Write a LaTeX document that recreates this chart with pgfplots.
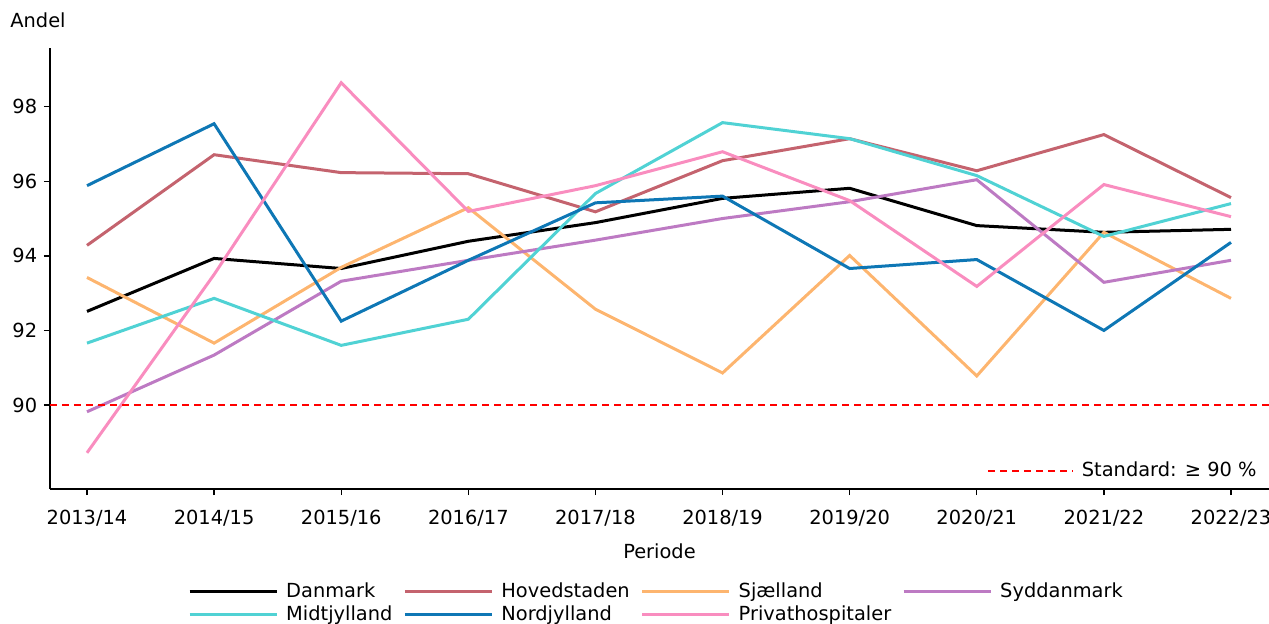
\documentclass[border=0pt]{standalone}
\usepackage{pgfplots}
\pgfplotsset{compat=1.18}
\usepackage{fontspec}
\setmainfont{DejaVu Sans}
\definecolor{cDan}{HTML}{000000}
\definecolor{cHov}{HTML}{C4636E}
\definecolor{cSja}{HTML}{FDB56F}
\definecolor{cSyd}{HTML}{BD7AC3}
\definecolor{cMid}{HTML}{50D2D4}
\definecolor{cNor}{HTML}{0E77B5}
\definecolor{cPri}{HTML}{F98DBF}
\begin{document}
\fontsize{9.7}{11.6}\selectfont
\begin{tikzpicture}
\useasboundingbox (-25pt,-67pt) rectangle (609.5pt,244.5pt);
\begin{axis}[
  scale only axis,
  width=609.5pt, height=220.5pt,
  xmin=-0.291, xmax=9.299,
  ymin=87.75, ymax=99.57,
  axis x line*=bottom, axis y line*=left,
  axis line style={line width=0.9pt, -},
  tick align=outside, major tick length=3pt,
  tick style={line width=0.7pt, black},
  xtick={0,...,9},
  xticklabels={2013/14,2014/15,2015/16,2016/17,2017/18,2018/19,2019/20,2020/21,2021/22,2022/23},
  ytick={90,92,94,96,98},
  /pgf/number format/assume math mode=true,
  ticklabel style={font=\fontsize{9.7}{11.6}\selectfont},
  xticklabel style={yshift=-4pt},
  xlabel={Periode},
  xlabel style={font=\fontsize{9.7}{11.6}\selectfont, yshift=-2pt},
  clip=false,
  legend columns=4,
  legend cell align=left,
  legend style={at={(0.5,0)}, anchor=north, yshift=-46.5pt, draw=none, fill=none,
    inner sep=0pt, font=\fontsize{9.7}{11.6}\selectfont,
    nodes={inner ysep=0pt, inner xsep=4pt, text height=7.5pt, text depth=2pt},
    row sep=2pt,
    /tikz/every even column/.append style={column sep=1.5pt}},
  legend image code/.code={\draw[#1] (0pt,0pt) -- (43.5pt,0pt);},
  every axis plot/.append style={line width=1.5pt},
]
\addplot[cDan] coordinates {(0,92.51) (1,93.93) (2,93.66) (3,94.39) (4,94.89) (5,95.54) (6,95.81) (7,94.81) (8,94.63) (9,94.71)};
\addlegendentry{Danmark}
\addplot[cHov] coordinates {(0,94.28) (1,96.71) (2,96.23) (3,96.20) (4,95.18) (5,96.55) (6,97.14) (7,96.28) (8,97.25) (9,95.56)};
\addlegendentry{Hovedstaden}
\addplot[cSja] coordinates {(0,93.42) (1,91.66) (2,93.69) (3,95.29) (4,92.57) (5,90.86) (6,94.01) (7,90.78) (8,94.63) (9,92.86)};
\addlegendentry{Sjælland}
\addplot[cSyd] coordinates {(0,89.82) (1,91.34) (2,93.32) (3,93.88) (4,94.42) (5,95.00) (6,95.45) (7,96.04) (8,93.29) (9,93.88)};
\addlegendentry{Syddanmark}
\addplot[cMid] coordinates {(0,91.66) (1,92.86) (2,91.60) (3,92.30) (4,95.67) (5,97.57) (6,97.14) (7,96.15) (8,94.52) (9,95.40)};
\addlegendentry{Midtjylland}
\addplot[cNor] coordinates {(0,95.88) (1,97.54) (2,92.25) (3,93.88) (4,95.42) (5,95.60) (6,93.66) (7,93.90) (8,92.00) (9,94.36)};
\addlegendentry{Nordjylland}
\addplot[cPri] coordinates {(0,88.72) (1,93.50) (2,98.64) (3,95.19) (4,95.88) (5,96.79) (6,95.48) (7,93.18) (8,95.91) (9,95.05)};
\addlegendentry{Privathospitaler}
\addplot[red, line width=0.75pt, dash pattern=on 3.5pt off 2.5pt, forget plot] coordinates {(-0.291,90) (9.299,90)};
\node[anchor=west, inner sep=0pt, font=\fontsize{9.7}{11.6}\selectfont] at ([xshift=-20pt,yshift=14pt]rel axis cs:0,1) {Andel};
\end{axis}
\begin{axis}[
  scale only axis,
  width=609.5pt, height=220.5pt,
  xmin=-0.291, xmax=9.299,
  ymin=87.75, ymax=99.57,
  hide axis,
  legend style={at={(1,0)}, anchor=south east, xshift=-2pt, yshift=4pt, draw=none, fill=none,
    inner sep=0pt, font=\fontsize{9.7}{11.6}\selectfont,
    nodes={inner ysep=0pt, inner xsep=4pt, text height=7.5pt, text depth=2pt}},
  legend image code/.code={\draw[#1] (0pt,0pt) -- (42.5pt,0pt);},
]
\addlegendimage{red, line width=0.75pt, dash pattern=on 3.5pt off 2.5pt}
\addlegendentry{Standard: ≥ 90 \%}
\end{axis}
\end{tikzpicture}
\end{document}
